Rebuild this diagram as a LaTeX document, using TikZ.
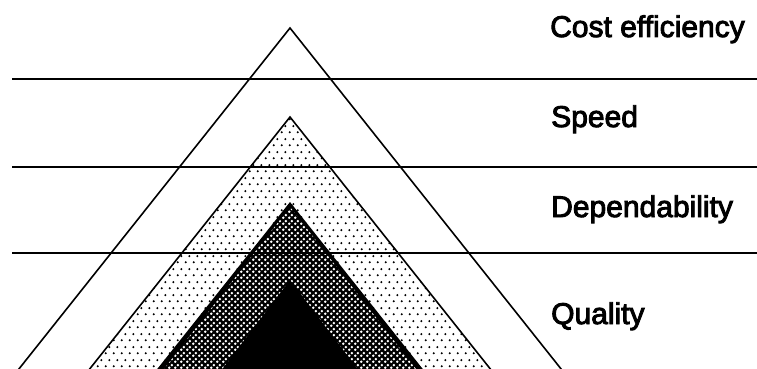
\documentclass[tikz,border=0pt]{standalone}
\usepackage{fontspec}
\setmainfont{Liberation Sans}
\newfontfamily\labfont{Liberation Sans}[FakeBold=3]
\usetikzlibrary{patterns}
\pgfdeclarepatternformonly{sparsedots}{\pgfpointorigin}{\pgfpoint{8pt}{13pt}}{\pgfpoint{8pt}{13pt}}{%
  \pgfpathcircle{\pgfpoint{2pt}{3pt}}{1.25pt}%
  \pgfpathcircle{\pgfpoint{6pt}{9.5pt}}{1.25pt}%
  \pgfusepath{fill}}
\pgfdeclarepatternformonly{holes}{\pgfpointorigin}{\pgfpoint{6pt}{6pt}}{\pgfpoint{6pt}{6pt}}{%
  \pgfpathcircle{\pgfpoint{1.5pt}{1.5pt}}{1.55pt}%
  \pgfpathcircle{\pgfpoint{4.5pt}{4.5pt}}{1.55pt}%
  \pgfusepath{fill}}
\tikzset{
  tri/.style={draw=black, line width=1.6pt, line join=miter},
  band/.style={draw=black, line width=2.2pt},
  lab/.style={anchor=base west, inner sep=0pt, font=\labfont\fontsize{30}{36}\selectfont}
}
\begin{document}
\begin{tikzpicture}[x=1pt,y=-1pt]
\useasboundingbox (0,0) rectangle (757,369);
\fill[white] (0,0) rectangle (757,369);
\begin{scope}
\clip (0,0) rectangle (757,369);
% outer triangle
\draw[tri, fill=white] (290,28) -- (290-0.795*352,380) -- (290+0.795*352,380) -- cycle;
% dotted triangle
\fill[white] (290,117) -- (290-0.795*263,380) -- (290+0.795*263,380) -- cycle;
\fill[pattern=sparsedots, pattern color=black] (290,117) -- (290-0.795*263,380) -- (290+0.795*263,380) -- cycle;
\draw[tri] (290,117) -- (290-0.795*263,380) -- (290+0.795*263,380) -- cycle;
% crosshatched triangle
\fill[black] (290,202) -- (290-0.795*178,380) -- (290+0.795*178,380) -- cycle;
\fill[pattern=holes, pattern color=white] (290,207) -- (290-0.795*173+3,380) -- (290+0.795*173-3,380) -- cycle;
% black triangle
\fill[black] (290,280) -- (290-0.76*100,380) -- (290+0.76*100,380) -- cycle;
\end{scope}
% horizontal lines
\coordinate (l1a) at (12,79);  \coordinate (l1b) at (757,79);
\coordinate (l2a) at (12,167); \coordinate (l2b) at (757,167);
\coordinate (l3a) at (12,253); \coordinate (l3b) at (757,253);
\draw[band] (l1a) -- (l1b);
\draw[band] (l2a) -- (l2b);
\draw[band] (l3a) -- (l3b);
% labels
\node[lab] (cost) at (550,37) {Cost efficiency};
\node[lab] (speed) at (551,127) {Speed};
\node[lab] (dep) at (551,217) {Dependability};
\node[lab] (qual) at (551,324) {Quality};
\end{tikzpicture}
\end{document}
